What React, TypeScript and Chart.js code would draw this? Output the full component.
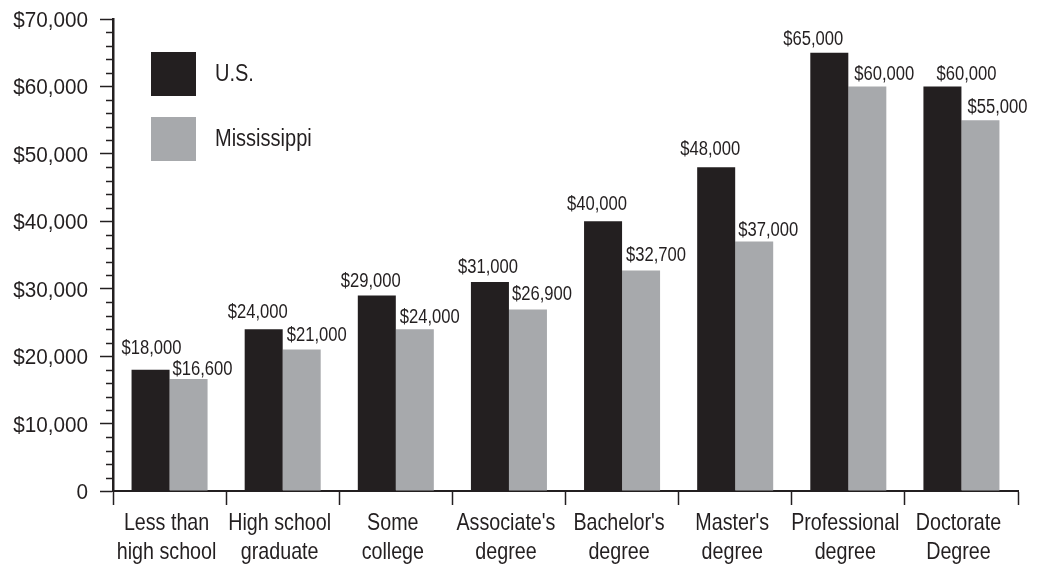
import React, { useEffect, useRef } from 'react';
import { Chart, registerables } from 'chart.js';

Chart.register(...registerables);

// ---- data ----
const categories: string[][] = [
  ['Less than', 'high school'],
  ['High school', 'graduate'],
  ['Some', 'college'],
  ["Associate's", 'degree'],
  ["Bachelor's", 'degree'],
  ["Master's", 'degree'],
  ['Professional', 'degree'],
  ['Doctorate', 'Degree'],
];
const seriesNames = ['U.S.', 'Mississippi'];
const usValues = [18000, 24000, 29000, 31000, 40000, 48000, 65000, 60000];
const msValues = [16600, 21000, 24000, 26900, 32700, 37000, 60000, 55000];
const yMin = 0;
const yMax = 70000;
const majorStep = 10000;
const minorStep = 2000;

// ---- style ----
const FONT = "'Liberation Sans', Arial, Helvetica, sans-serif";
const INK = '#231f20';
const US_COLOR = '#231f20';
const MS_COLOR = '#a7a9ac';
// value-label nudges relative to each bar (dx of text, gap above bar top)
const usLabelDx = [1, -6, -6, -2, -6, -6, -16, 24];
const usLabelGap = [16, 11, 8, 9, 11, 12, 8, 6];
const msLabelDx = [3, 4, 4, 3, 4, 3, 6, 6];
const msLabelGap = [4, 8, 6, 10, 10, 6, 6, 7];

const money = (v: number) => (v === 0 ? '0' : '$' + v.toLocaleString('en-US'));

// condensed-looking text: a sans face squeezed horizontally
function drawText(ctx: CanvasRenderingContext2D, text: string, x: number, y: number,
  align: CanvasTextAlign, size: number, sx: number) {
  ctx.save();
  ctx.font = `${size}px ${FONT}`;
  ctx.fillStyle = INK;
  ctx.textAlign = align;
  ctx.textBaseline = 'alphabetic';
  ctx.translate(x, y);
  ctx.scale(sx, 1);
  ctx.fillText(text, 0, 0);
  ctx.restore();
}

const axisTextPlugin = {
  id: 'axisText',
  afterDraw(chart: any) {
    const ctx = chart.ctx;
    const y = chart.scales.y;
    const x = chart.scales.x;
    const { left, bottom } = chart.chartArea;
    // minor ticks
    ctx.save();
    ctx.strokeStyle = INK;
    ctx.lineWidth = 1.5;
    y.ticks.forEach((t: any) => {
      if (t.value % majorStep !== 0) {
        const py = Math.round(y.getPixelForValue(t.value)) + 0.5;
        ctx.beginPath();
        ctx.moveTo(left - 7, py);
        ctx.lineTo(left, py);
        ctx.stroke();
      }
    });
    ctx.restore();
    // y tick labels
    y.ticks.forEach((t: any) => {
      if (t.value % majorStep === 0) {
        const py = y.getPixelForValue(t.value);
        drawText(ctx, money(t.value), left - 25, py + 8, 'right', 22.5, 0.92);
      }
    });
    // x tick labels
    (chart.data.labels as string[][]).forEach((lines, i) => {
      const px = x.getPixelForValue(i);
      lines.forEach((ln, j) => {
        drawText(ctx, ln, px - 3, bottom + 38.5 + j * 29.7, 'center', 24, 0.82);
      });
    });
  },
};

const valueLabelPlugin = {
  id: 'valueLabels',
  afterDatasetsDraw(chart: any) {
    const ctx = chart.ctx;
    chart.data.datasets.forEach((ds: any, di: number) => {
      const meta = chart.getDatasetMeta(di);
      meta.data.forEach((bar: any, i: number) => {
        const { x, y, width } = bar.getProps(['x', 'y', 'width'], true);
        const txt = money(ds.data[i]);
        if (di === 0) {
          drawText(ctx, txt, x + usLabelDx[i], y - usLabelGap[i], 'center', 20, 0.83);
        } else {
          drawText(ctx, txt, x - width / 2 + msLabelDx[i], y - msLabelGap[i], 'left', 20, 0.83);
        }
      });
    });
  },
};

const legendPlugin = {
  id: 'insideLegend',
  afterDraw(chart: any) {
    const ctx = chart.ctx;
    const { left, top } = chart.chartArea;
    chart.data.datasets.forEach((ds: any, i: number) => {
      const bx = left + 38;
      const by = top + 33 + i * 65;
      ctx.save();
      ctx.fillStyle = ds.backgroundColor;
      ctx.fillRect(bx, by, 45, 44);
      ctx.restore();
      drawText(ctx, ds.label, bx + 64, by + 29, 'left', 23, 0.87);
    });
  },
};

export default function App() {
  const ref = useRef<HTMLCanvasElement | null>(null);

  useEffect(() => {
    if (!ref.current) return;
    const chart = new Chart(ref.current, {
      type: 'bar',
      data: {
        labels: categories,
        datasets: [
          { label: seriesNames[0], data: usValues, backgroundColor: US_COLOR, borderWidth: 0 },
          { label: seriesNames[1], data: msValues, backgroundColor: MS_COLOR, borderWidth: 0 },
        ],
      },
      options: {
        responsive: false,
        animation: false,
        events: [],
        datasets: { bar: { categoryPercentage: 0.672, barPercentage: 1.0 } },
        layout: { padding: { left: 0, top: 19, right: 22, bottom: 0 } },
        plugins: { legend: { display: false }, tooltip: { enabled: false } },
        scales: {
          x: {
            offset: true,
            afterFit: (s: any) => { s.height = 78; },
            border: { display: true, color: INK, width: 2 },
            grid: {
              offset: true,
              drawOnChartArea: false,
              drawTicks: true,
              tickLength: 14,
              tickColor: INK,
              tickWidth: 1.5,
            },
            ticks: { display: false, autoSkip: false },
          },
          y: {
            min: yMin,
            max: yMax,
            afterFit: (s: any) => { s.width = 113; },
            border: { display: true, color: INK, width: 2.5 },
            grid: {
              drawOnChartArea: false,
              drawTicks: true,
              tickLength: 13,
              tickWidth: 1.5,
              tickColor: (c: any) => (c.tick && c.tick.value % majorStep === 0 ? INK : 'rgba(0,0,0,0)'),
            },
            ticks: { display: false, stepSize: minorStep, autoSkip: false },
          },
        },
      },
      plugins: [axisTextPlugin, valueLabelPlugin, legendPlugin],
    });
    return () => chart.destroy();
  }, []);

  return (
    <div style={{ position: 'absolute', left: 0, top: 0, width: 1040, height: 569, background: '#fff' }}>
      <canvas ref={ref} width={1040} height={569} />
    </div>
  );
}
